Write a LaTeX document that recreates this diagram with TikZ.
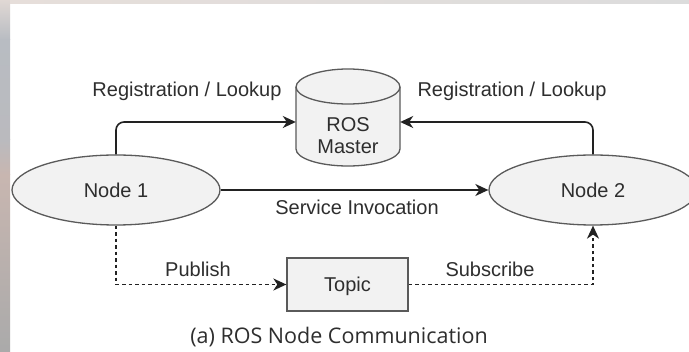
\documentclass[tikz,border=0pt]{standalone}
\usepackage{fontspec}
\setmainfont{Liberation Sans}
\newfontfamily\capfont{Open Sans}
\usetikzlibrary{arrows.meta,shapes.geometric}

\definecolor{shapefill}{HTML}{F2F2F2}
\definecolor{shapeline}{HTML}{5A5A5A}
\definecolor{inktext}{HTML}{2E2E2E}
\definecolor{wirecol}{HTML}{222222}

\begin{document}
\begin{tikzpicture}[x=1pt, y=-1pt,
  labelfont/.style={font=\fontsize{20}{24}\selectfont, text=inktext},
  edgelabel/.style={labelfont, inner sep=0pt, anchor=base},
  procnode/.style={ellipse, draw=shapeline, fill=shapefill, line width=1.3pt,
    minimum width=208pt, minimum height=70pt, inner sep=0pt, labelfont},
  topicbox/.style={rectangle, draw=shapeline, fill=shapefill, line width=1.3pt,
    minimum width=121pt, minimum height=53pt, inner sep=0pt, text depth=0pt, labelfont},
  dbbody/.style={draw=shapeline, fill=shapefill, line width=1.3pt},
  wire/.style={draw=wirecol, line width=1.6pt,
    -{Stealth[length=13pt, width=12pt, inset=4pt]}},
  dashwire/.style={wire, dash pattern=on 3.5pt off 3pt},
]
% page area
\useasboundingbox (0,0) rectangle (689,352);
\fill[white] (0,0) rectangle (689,352);

% thin scanned edges along the left and top
\shade[top color={rgb,255:red,224;green,216;blue,212}, bottom color={rgb,255:red,184;green,188;blue,194}]
  (0,0) rectangle (10,40);
\shade[top color={rgb,255:red,184;green,188;blue,194}, bottom color={rgb,255:red,186;green,186;blue,190}]
  (0,40) rectangle (10,140);
\shade[top color={rgb,255:red,186;green,186;blue,190}, bottom color={rgb,255:red,200;green,182;blue,176}]
  (0,140) rectangle (10,175);
\shade[top color={rgb,255:red,200;green,182;blue,176}, bottom color={rgb,255:red,170;green,170;blue,170}]
  (0,175) rectangle (10,352);
\shade[left color={rgb,255:red,230;green,222;blue,218}, middle color={rgb,255:red,234;green,234;blue,230},
  right color={rgb,255:red,220;green,220;blue,220}]
  (10,0) rectangle (689,4);

% ROS Master drawn as a cylinder
\path[dbbody] (296,87) -- (296,149)
  .. controls (296,158.39) and (319.28,166) .. (348,166)
  .. controls (376.72,166) and (400,158.39) .. (400,149)
  -- (400,87)
  .. controls (400,77.61) and (376.72,69) .. (348,69)
  .. controls (319.28,69) and (296,77.61) .. (296,87) -- cycle;
\draw[draw=shapeline, line width=1.3pt] (296,87)
  .. controls (296,96.39) and (319.28,104) .. (348,104)
  .. controls (376.72,104) and (400,96.39) .. (400,87);
\node[minimum width=104pt, minimum height=78pt, inner sep=0pt] (master) at (348,122) {};
\node[labelfont, align=center, inner sep=0pt, anchor=base] (mastertext) at (348,154)
  {ROS\\[-2pt]Master};

% ROS nodes and the topic
\node[procnode] (n1) at (116,190) {Node 1};
\node[procnode] (n2) at (593,190) {Node 2};
\node[topicbox] (topic) at (347.5,284.5) {Topic};

% registration with the master
\draw[wire, rounded corners=8pt] (n1.north) |- (master.west);
\draw[wire, rounded corners=8pt] (n2.north) |- (master.east);
\node[edgelabel] (reg1) at (187,97) {Registration / Lookup};
\node[edgelabel] (reg2) at (512,97) {Registration / Lookup};

% service call
\draw[wire] (n1.east) -- (n2.west);
\node[edgelabel] (srv) at (357,215) {Service Invocation};

% publish / subscribe through the topic
\draw[dashwire] (n1.south) |- (topic.west);
\draw[dashwire] (topic.east) -| (n2.south);
\node[edgelabel] (pub) at (198,277) {Publish};
\node[edgelabel] (sub) at (490,277) {Subscribe};

% caption
\node[font=\capfont\fontsize{21.5}{26}\selectfont, text=inktext, inner sep=0pt, anchor=base]
  (caption) at (339,344) {(a) ROS Node Communication};
\end{tikzpicture}
\end{document}
